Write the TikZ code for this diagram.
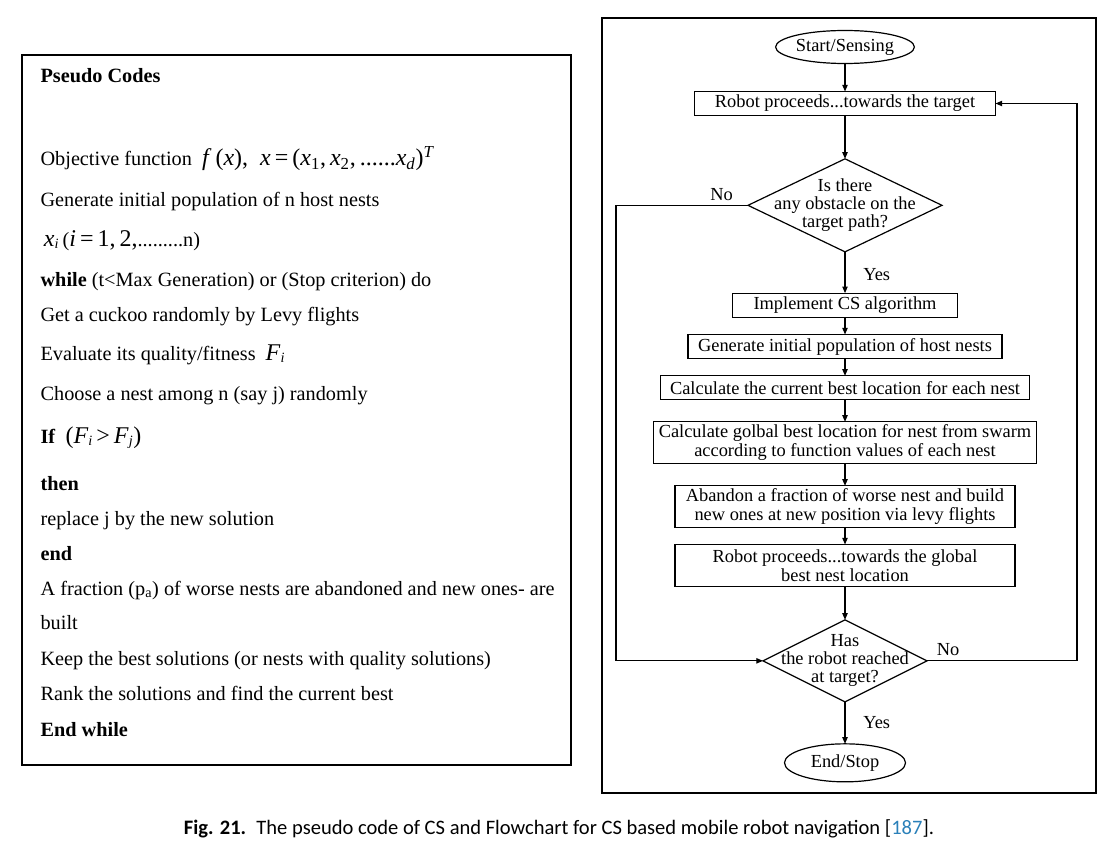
\documentclass[tikz,border=0pt]{standalone}
\usepackage{fontspec}
\setmainfont{Liberation Serif}
\newfontfamily\captionfont{Carlito}
\usepackage{xcolor}
\usetikzlibrary{positioning, arrows.meta, shapes.geometric}
\definecolor{citeblue}{RGB}{42,128,185}
\newcommand{\vx}[1]{\textit{#1}}
\newcommand{\mathsz}{\fontsize{18}{18}\selectfont}

\begin{document}
\begin{tikzpicture}[x=0.75pt,y=-0.75pt,>={Triangle[length=5pt,width=4pt]},
  line width=0.9pt,
  code line/.style={anchor=west,inner sep=0pt,font=\fontsize{15.2}{17}\selectfont,text height=10.5pt,text depth=3pt},
  process/.style={rectangle,draw,font=\fontsize{13.8}{14.3}\selectfont,align=center,inner sep=1.5pt,outer sep=0pt,minimum height=18pt},
  terminal/.style={ellipse,draw,font=\fontsize{13.8}{14.3}\selectfont,inner sep=0pt,outer sep=0pt,minimum width=90.75pt},
  decision/.style={diamond,draw,inner sep=0pt,outer sep=0pt},
  dec text/.style={font=\fontsize{13.8}{13.5}\selectfont,align=center},
  flow label/.style={font=\fontsize{13.8}{14.3}\selectfont}]

\useasboundingbox (0,0) rectangle (1118,849);

% frames
\draw[line width=2.2pt] (22,55) rectangle (571,765);
\draw[line width=1.6pt] (602,18) rectangle (1096,793);

% pseudo code
\node[code line,font=\fontsize{15.2}{17}\selectfont\bfseries] (title) at (40,78) {Pseudo Codes};
\foreach \y/\txt [count=\i] in {
  161/{Objective function\enspace{\mathsz\vx{f}\,(\vx{x}),\enspace\vx{x}\,=\,(\vx{x}\textsubscript{1},\,\vx{x}\textsubscript{2},\,......\vx{x}\textsubscript{\vx{d}})\textsuperscript{\vx{T}}}},
  201/{Generate initial population of n host nests},
  241/{\,{\mathsz\vx{x}}\textsubscript{\vx{i}}\,({\mathsz\vx{i}\,=\,1,\,2,}.........n)},
  281/{\textbf{while} (t<Max Generation) or (Stop criterion) do},
  316/{Get a cuckoo randomly by Levy flights},
  355/{Evaluate its quality/fitness\enspace{\mathsz\vx{F}}\textsubscript{\vx{i}}},
  395/{Choose a nest among n (say j) randomly},
  438/{\textbf{If}\enspace{\mathsz(\vx{F}}\textsubscript{\vx{i}}\,{\mathsz>\,\vx{F}}\textsubscript{\vx{j}}{\mathsz)}},
  485/{\textbf{then}},
  520/{replace j by the new solution},
  555/{\textbf{end}},
  590/{A fraction (p\textsubscript{a}) of worse nests are abandoned and new ones- are},
  624/{built},
  660/{Keep the best solutions (or nests with quality solutions)},
  695/{Rank the solutions and find the current best},
  731/{\textbf{End while}}}
  \node[code line] (code\i) at (40,\y) {\txt};

% flowchart
\node[terminal,minimum height=24.75pt] (start) at (845,47) {Start/Sensing};
\node[process,minimum width=225.75pt,below=21pt of start] (proceed) {Robot proceeds...towards the target};
\node[decision,minimum width=145.5pt,minimum height=69.75pt,below=32.5pt of proceed] (obstacle) {};
\node[dec text] (obstacletext) at (obstacle) {Is there\\any obstacle on the\\target path?};
\node[process,minimum width=168.75pt,below=31pt of obstacle] (implement) {Implement CS algorithm};
\node[process,minimum width=235.5pt,below=13pt of implement] (generate) {Generate initial population of host nests};
\node[process,minimum width=276.75pt,below=13pt of generate] (current) {Calculate the current best location for each nest};
\node[process,minimum width=287.25pt,minimum height=31.5pt,below=16.5pt of current] (global) {Calculate golbal best location for nest from swarm\\according to function values of each nest};
\node[process,minimum width=255pt,minimum height=31.5pt,below=16.5pt of global] (abandon) {Abandon a fraction of worse nest and build\\new ones at new position via levy flights};
\node[process,minimum width=255pt,minimum height=31.5pt,below=12.5pt of abandon] (approach) {Robot proceeds...towards the global\\best nest location};
\node[decision,minimum width=123pt,minimum height=61.5pt,below=25pt of approach] (reached) {};
\node[dec text] (reachedtext) at (reached) {Has\\the robot reached\\at target?};
\node[terminal,minimum height=28.5pt,below=31.5pt of reached] (stop) {End/Stop};

\foreach \a/\b in {start/proceed, proceed/obstacle, implement/generate, generate/current,
  current/global, global/abandon, abandon/approach, approach/reached}
  \draw[->] (\a) -- (\b);
\draw[->] (obstacle) -- node[flow label,right=10pt,pos=0.55] (yes1) {Yes} (implement);
\draw[->] (reached) -- node[flow label,right=10pt,pos=0.5] (yes2) {Yes} (stop);

% loops back
\coordinate (leftrail) at (616,0);
\coordinate (rightrail) at (1077,0);
\draw[->] (obstacle.west) -- node[flow label,above,pos=0.2] (no1) {No} (obstacle.west -| leftrail) |- (reached.west);
\draw[->] (reached.east) -- node[flow label,above,pos=0.14] (no2) {No} (reached.east -| rightrail) |- (proceed.east);

% caption
\node[font=\captionfont\fontsize{15.4}{17}\selectfont] (caption) at (559,829)
  {\textbf{Fig. 21.}\enspace The pseudo code of CS and Flowchart for CS based mobile robot navigation [\textcolor{citeblue}{187}].};
\end{tikzpicture}
\end{document}
